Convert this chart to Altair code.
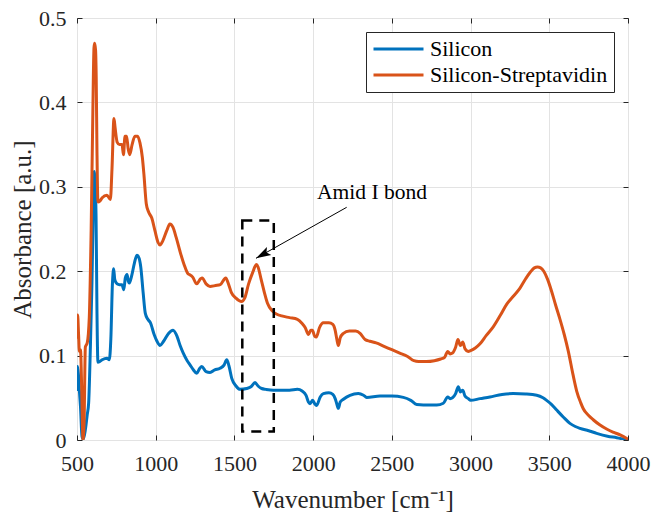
import altair as alt
import pandas as pd

# ---------------- data ----------------
series_names = ["Silicon", "Silicon-Streptavidin"]
series_colors = ["#0072BD", "#D95319"]

wn_si = [500, 504, 510, 515, 522, 532, 540, 553, 565, 574, 585, 595, 603, 610, 614, 621, 627, 633,
         645, 660, 690, 705, 715, 725, 733, 740, 754, 770, 786, 797, 807, 818, 826, 832, 849, 865,
         881, 895, 905, 920, 934, 950, 966, 990, 1008, 1027, 1050, 1080, 1110, 1135, 1155, 1175,
         1200, 1218, 1240, 1260, 1280, 1292, 1320, 1345, 1375, 1408, 1435, 1451, 1465, 1483, 1510,
         1535, 1578, 1605, 1631, 1650, 1673, 1700, 1747, 1800, 1850, 1900, 1930, 1955, 1970, 1980,
         1997, 2010, 2022, 2045, 2065, 2100, 2125, 2140, 2150, 2160, 2172, 2190, 2234, 2287, 2320,
         2340, 2425, 2500, 2573, 2620, 2658, 2700, 2785, 2827, 2855, 2870, 2885, 2905, 2922, 2935,
         2950, 2965, 2986, 3000, 3060, 3123, 3200, 3271, 3350, 3420, 3460, 3483, 3515, 3547, 3590,
         3631, 3665, 3695, 3750, 3801, 3870, 3928, 4000]
abs_si = [0.058, 0.087, 0.075, 0.059, 0.040, 0.004, 0.001, 0.012, 0.030, 0.044, 0.110, 0.186, 0.270,
          0.318, 0.310, 0.265, 0.150, 0.092, 0.093, 0.095, 0.097, 0.095, 0.120, 0.185, 0.203, 0.190,
          0.185, 0.184, 0.184, 0.178, 0.192, 0.196, 0.188, 0.186, 0.196, 0.210, 0.219, 0.215, 0.205,
          0.175, 0.150, 0.143, 0.139, 0.125, 0.117, 0.112, 0.117, 0.126, 0.130, 0.123, 0.112, 0.103,
          0.094, 0.089, 0.083, 0.079, 0.085, 0.087, 0.081, 0.080, 0.083, 0.085, 0.089, 0.095, 0.088,
          0.073, 0.064, 0.060, 0.061, 0.063, 0.068, 0.064, 0.061, 0.060, 0.059, 0.059, 0.059, 0.060,
          0.058, 0.053, 0.045, 0.043, 0.047, 0.043, 0.041, 0.051, 0.055, 0.056, 0.054, 0.049, 0.043,
          0.0375, 0.045, 0.048, 0.053, 0.055, 0.053, 0.0505, 0.052, 0.052, 0.0505, 0.047, 0.042,
          0.0415, 0.0415, 0.0435, 0.051, 0.049, 0.050, 0.055, 0.063, 0.057, 0.059, 0.052, 0.049,
          0.047, 0.049, 0.051, 0.054, 0.055, 0.0545, 0.053, 0.050, 0.047, 0.042, 0.0355, 0.027,
          0.0197, 0.016, 0.0138, 0.011, 0.0079, 0.0045, 0.0027, 0.0]

wn_sis = [500, 504, 510, 515, 522, 530, 538, 545, 553, 565, 578, 590, 600, 608, 612, 618, 622, 627,
          633, 645, 660, 690, 712, 722, 735, 742, 755, 770, 786, 795, 805, 815, 825, 835, 850, 868,
          885, 900, 915, 925, 940, 955, 975, 995, 1015, 1027, 1045, 1070, 1090, 1110, 1130, 1155,
          1180, 1205, 1215, 1235, 1260, 1285, 1295, 1320, 1345, 1380, 1410, 1445, 1460, 1480, 1510,
          1545, 1565, 1590, 1615, 1640, 1650, 1670, 1690, 1710, 1740, 1770, 1800, 1850, 1900, 1930,
          1950, 1970, 1985, 1995, 2010, 2020, 2040, 2065, 2100, 2125, 2140, 2150, 2160, 2172, 2190,
          2230, 2270, 2300, 2330, 2360, 2400, 2450, 2500, 2550, 2600, 2640, 2670, 2720, 2770, 2810,
          2835, 2855, 2870, 2885, 2905, 2920, 2935, 2950, 2965, 2985, 3000, 3030, 3060, 3100, 3144,
          3190, 3230, 3270, 3314, 3350, 3380, 3405, 3425, 3445, 3465, 3490, 3515, 3540, 3568, 3595,
          3621, 3650, 3674, 3700, 3716, 3750, 3779, 3820, 3864, 3910, 3950, 4000]
abs_sis = [0.120, 0.148, 0.125, 0.105, 0.107, 0.060, 0.000, 0.020, 0.110, 0.115, 0.145, 0.250, 0.380,
           0.465, 0.470, 0.462, 0.430, 0.340, 0.282, 0.283, 0.287, 0.290, 0.285, 0.320, 0.381, 0.370,
           0.353, 0.350, 0.350, 0.338, 0.360, 0.360, 0.345, 0.338, 0.350, 0.360, 0.360, 0.352, 0.335,
           0.315, 0.280, 0.270, 0.263, 0.248, 0.234, 0.231, 0.236, 0.248, 0.256, 0.252, 0.240, 0.223,
           0.208, 0.197, 0.196, 0.193, 0.185, 0.191, 0.192, 0.185, 0.182, 0.183, 0.184, 0.192, 0.186,
           0.175, 0.168, 0.164, 0.168, 0.185, 0.198, 0.208, 0.205, 0.190, 0.175, 0.162, 0.153, 0.149,
           0.147, 0.145, 0.143, 0.138, 0.133, 0.125, 0.130, 0.130, 0.123, 0.122, 0.133, 0.139, 0.139,
           0.137, 0.130, 0.120, 0.112, 0.121, 0.126, 0.129, 0.129, 0.126, 0.119, 0.117, 0.115, 0.111,
           0.107, 0.103, 0.099, 0.094, 0.093, 0.093, 0.094, 0.096, 0.098, 0.105, 0.102, 0.103, 0.110,
           0.119, 0.112, 0.116, 0.108, 0.105, 0.106, 0.109, 0.114, 0.124, 0.134, 0.148, 0.161, 0.170,
           0.180, 0.191, 0.199, 0.204, 0.205, 0.204, 0.200, 0.190, 0.176, 0.160, 0.143, 0.125, 0.105,
           0.078, 0.058, 0.044, 0.037, 0.029, 0.024, 0.018, 0.013, 0.009, 0.006, 0.001]

x_ticks = [500, 1000, 1500, 2000, 2500, 3000, 3500, 4000]
y_ticks = [0, 0.1, 0.2, 0.3, 0.4, 0.5]

# annotation
box_wn = [1550, 1750]
box_abs = [0.01, 0.26]
arrow_wn = [2213, 1637]
arrow_abs = [0.2757, 0.2153]
note_text = ["Amid I bond"]
note_wn = [2374]
note_abs = [0.2855]

# ---------------- build tables ----------------
rows = []
for name, wns, vals in [(series_names[0], wn_si, abs_si), (series_names[1], wn_sis, abs_sis)]:
    for i, (w, v) in enumerate(zip(wns, vals)):
        rows.append({"wn": w, "a": v, "series": name, "idx": i})
df = pd.DataFrame(rows)

box_df = pd.DataFrame({"x": [box_wn[0]], "x2": [box_wn[1]], "y": [box_abs[0]], "y2": [box_abs[1]]})
arrow_df = pd.DataFrame({"x": [arrow_wn[0]], "x2": [arrow_wn[1]], "y": [arrow_abs[0]], "y2": [arrow_abs[1]]})
head_df = pd.DataFrame({"x": [arrow_wn[1]], "y": [arrow_abs[1]]})
note_df = pd.DataFrame({"x": note_wn, "y": note_abs, "t": note_text})

FONT = "Liberation Serif"
AX = "#262626"
W, H = 551, 422

x_scale = alt.Scale(domain=[500, 4000], nice=False, zero=False)
y_scale = alt.Scale(domain=[0, 0.5], nice=False, zero=False)

lines = alt.Chart(df).mark_line(strokeWidth=3, interpolate="monotone", clip=True).encode(
    x=alt.X("wn:Q", scale=x_scale,
            axis=alt.Axis(values=x_ticks, format="d", title="Wavenumber [cm⁻¹]",
                          offset=-5, tickSize=5, tickColor=AX, domain=False,
                          grid=True, gridColor="#e3e3e3", gridWidth=1,
                          labelFlush=False, labelOverlap=False,
                          labelFont=FONT, labelFontSize=22, labelColor=AX, labelPadding=13,
                          titleFont=FONT, titleFontSize=25, titleFontWeight="normal",
                          titleColor=AX, titleY=72, titleBaseline="alphabetic")),
    y=alt.Y("a:Q", scale=y_scale,
            axis=alt.Axis(values=y_ticks, format="~g", title="Absorbance [a.u.]",
                          offset=-5, tickSize=5, tickColor=AX, domain=False,
                          grid=True, gridColor="#e3e3e3", gridWidth=1,
                          labelFlush=False, labelOverlap=False,
                          labelFont=FONT, labelFontSize=22, labelColor=AX, labelPadding=11,
                          titleFont=FONT, titleFontSize=25, titleFontWeight="normal",
                          titleColor=AX, titleAngle=270, titleBaseline="alphabetic",
                          titleAlign="center", titleX=-52, titleY=H / 2)),
    color=alt.Color("series:N", scale=alt.Scale(domain=series_names, range=series_colors),
                    legend=alt.Legend(title=None, orient="none", legendX=289, legendY=14,
                                      symbolType="stroke", symbolSize=2500, symbolStrokeWidth=3,
                                      clipHeight=22,
                                      labelFont=FONT, labelFontSize=22, labelColor="black",
                                      labelLimit=0, labelOffset=5, padding=6, rowPadding=4,
                                      strokeColor=AX, fillColor="white")),
    order="idx:Q",
)

ax_top = alt.Axis(orient="top", values=x_ticks, labels=False, title=None, grid=False,
                  domain=False, offset=-5, tickSize=5, tickColor=AX)
ax_right = alt.Axis(orient="right", values=y_ticks, labels=False, title=None, grid=False,
                    domain=False, offset=-5, tickSize=5, tickColor=AX)

box = alt.Chart(box_df).mark_rect(fillOpacity=0, stroke="black", strokeWidth=2.5,
                                  strokeDash=[10, 7]).encode(
    x=alt.X("x:Q", scale=x_scale, axis=ax_top), x2="x2",
    y=alt.Y("y:Q", scale=y_scale, axis=ax_right), y2="y2")

arrow = alt.Chart(arrow_df).mark_rule(color="black", strokeWidth=1).encode(
    x=alt.X("x:Q", scale=x_scale, axis=ax_top), x2="x2",
    y=alt.Y("y:Q", scale=y_scale, axis=ax_right), y2="y2")

head = alt.Chart(head_df).mark_point(shape="M0,0L0.6,2L0,1.6L-0.6,2Z", size=225, filled=True,
                                     color="black", opacity=1, angle=241).encode(
    x=alt.X("x:Q", scale=x_scale, axis=ax_top),
    y=alt.Y("y:Q", scale=y_scale, axis=ax_right))

note = alt.Chart(note_df).mark_text(font=FONT, fontSize=21.5, color="black", align="center",
                                    baseline="alphabetic").encode(
    x=alt.X("x:Q", scale=x_scale, axis=ax_top),
    y=alt.Y("y:Q", scale=y_scale, axis=ax_right),
    text="t:N")

annot = alt.layer(box, arrow, head, note)

chart = alt.layer(lines, annot).resolve_scale(x="independent", y="independent").properties(
    width=W, height=H,
    padding={"left": 77, "top": 18, "right": 24, "bottom": 72},
    autosize=alt.AutoSizeParams(type="none"),
    background="white",
).configure_view(stroke=AX, strokeWidth=1)

chart.save("out.html", embed_options={"renderer": "svg", "actions": False})
